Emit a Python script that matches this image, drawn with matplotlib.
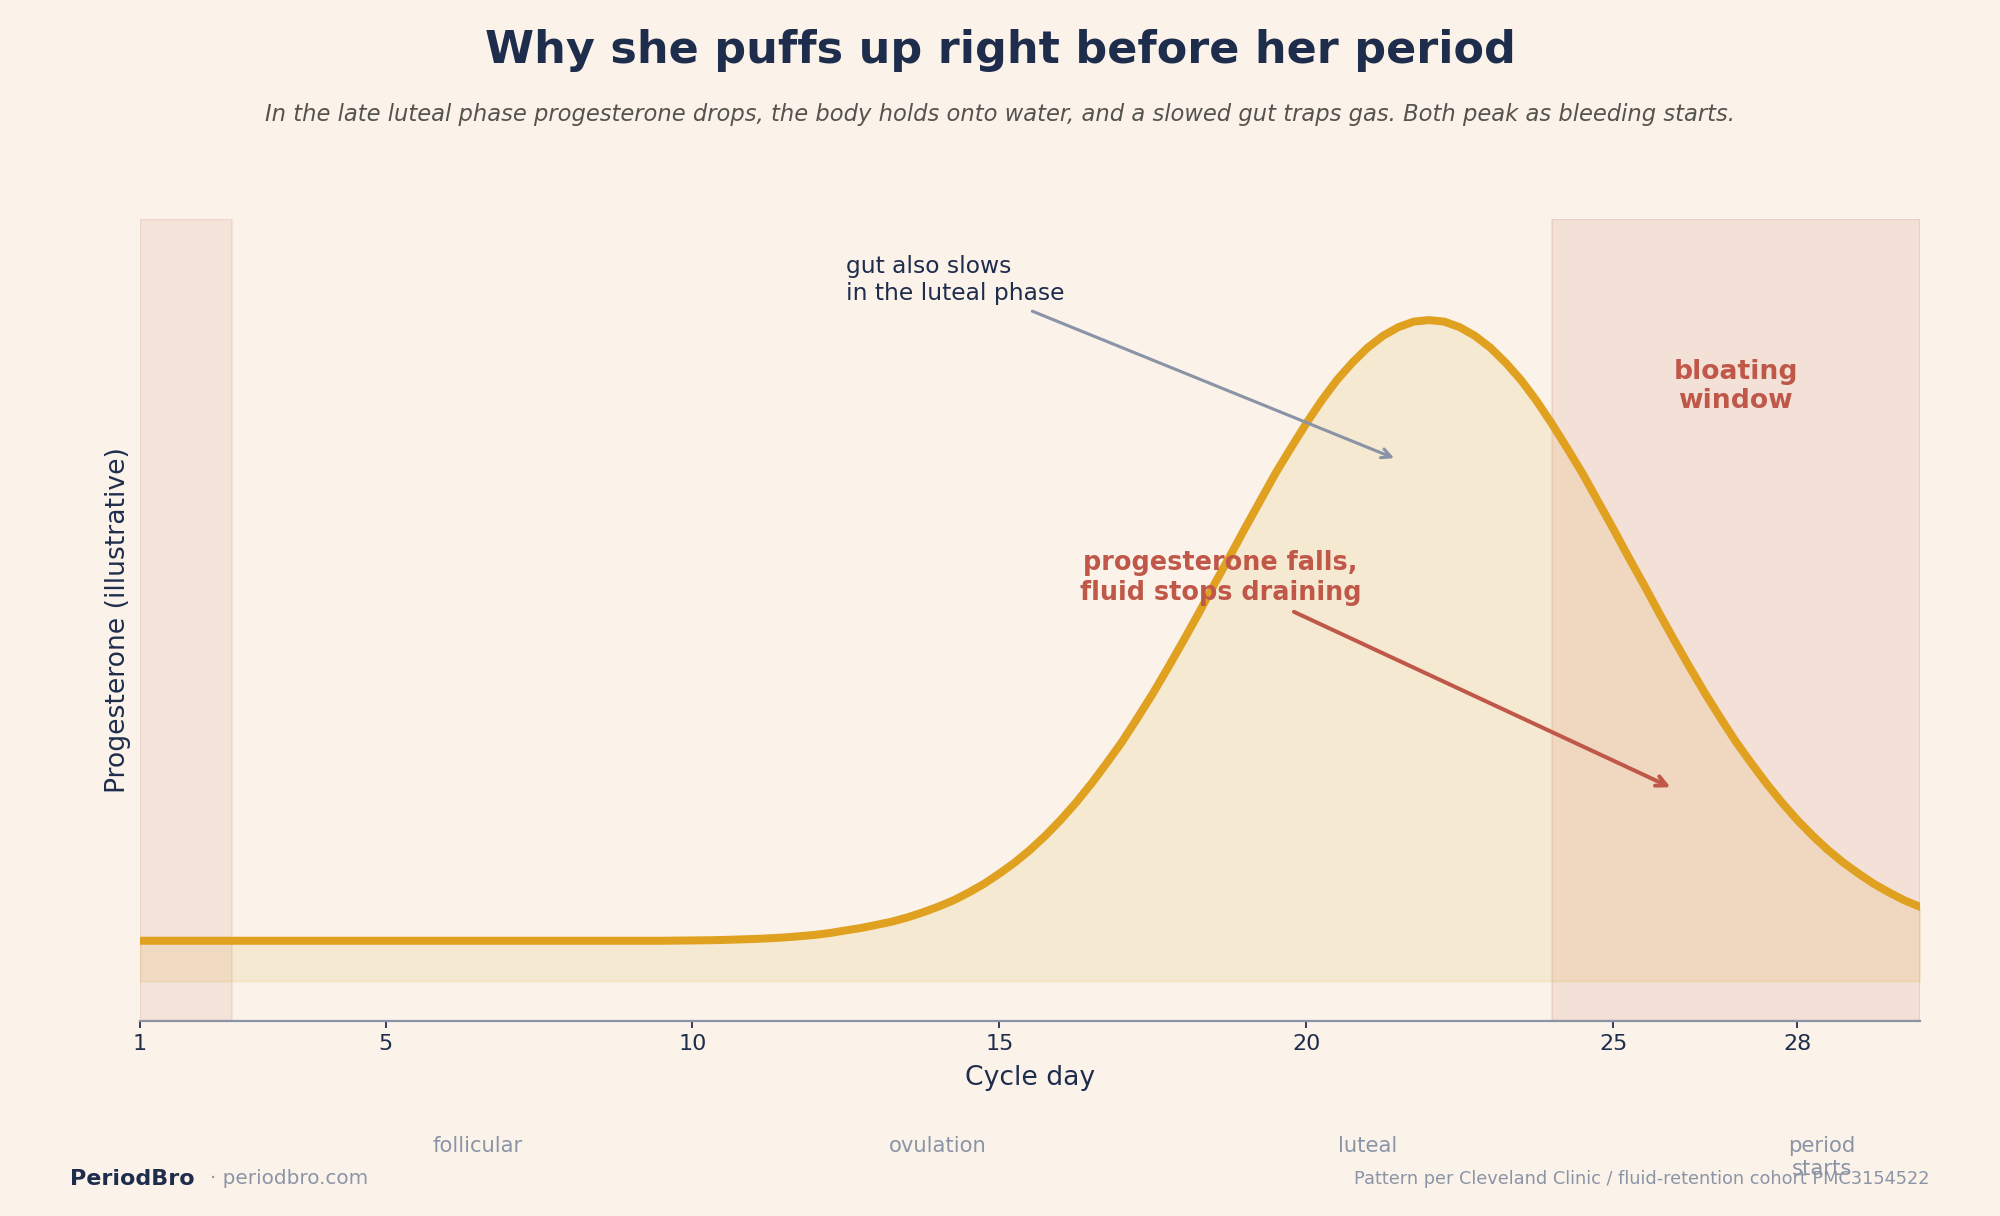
import numpy as np
import matplotlib
matplotlib.use('Agg')
import matplotlib.pyplot as plt

# Data
days = np.arange(1, 30.25, 0.25)
progesterone = [.0510] * 35 + [
    .0512, .0514, .0516, .0520, .0526, .0532, .0541, .0552,
    .0567, .0585, .0609, .0641, .0672, .0711, .0752, .0805, .0868, .0940, .1020, .1120,
    .1230, .1360, .1500, .1660, .1840, .2040, .2260, .2500, .2760, .3030, .3330, .3640,
    .3970, .4310, .4660, .5020, .5370, .5730, .6080, .6430, .6750, .7060, .7350, .7610,
    .7830, .8020, .8170, .8280, .8350, .8370, .8350, .8280, .8170, .8020, .7830, .7610,
    .7350, .7060, .6750, .6430, .6080, .5730, .5370, .5020, .4660, .4310, .3970, .3640,
    .3330, .3030, .2760, .2500, .2260, .2040, .1840, .1660, .1500, .1360, .1230, .1120,
    .1020, .0940]
tick_days = [1, 5, 10, 15, 20, 25, 28]
phase_days = [6.5, 14, 21, 28.4]
phase_names = ['follicular', 'ovulation', 'luteal', 'period\nstarts']
period_span = [1, 2.5]
bloating_span = [24, 30]

BG = '#FBF3EA'
NAVY = '#1F2D4D'
GOLD = '#E0A020'
CORAL = '#C0584A'
GRAY = '#8A94A6'

fig = plt.figure(figsize=(12.5, 7.6), dpi=160, facecolor=BG)
ax = fig.add_axes([140 / 2000, 1 - 1020.5 / 1216, 1780 / 2000, 801.5 / 1216], facecolor=BG)

ax.axvspan(period_span[0], period_span[1], color=CORAL, alpha=0.10, zorder=1)
ax.axvspan(bloating_span[0], bloating_span[1], color=CORAL, alpha=0.12, zorder=1)
ax.fill_between(days, 0, progesterone, color='#D9A520', alpha=0.12, zorder=2)
ax.plot(days, progesterone, color=GOLD, lw=3.6, zorder=3)

ax.set_xlim(1, 30)
ax.set_ylim(-0.05, 0.965)
ax.set_xticks(tick_days)
ax.set_yticks([])
ax.tick_params(axis='x', labelsize=10, colors=NAVY, length=3.2, width=0.8, pad=3)
for side in ['top', 'right', 'left']:
    ax.spines[side].set_visible(False)
ax.spines['bottom'].set_color(GRAY)
ax.spines['bottom'].set_linewidth(1)

ax.set_xlabel('Cycle day', fontsize=12, color=NAVY, labelpad=4.7)
ax.set_ylabel('Progesterone (illustrative)', fontsize=12, color=NAVY, labelpad=4.2)

ax.text(27, 0.753, 'bloating\nwindow', color=CORAL, fontsize=12, fontweight='bold',
        ha='center', va='center', linespacing=1.15)

ax.annotate('gut also slows\nin the luteal phase', xy=(21.5, 0.66), xytext=(12.5, 0.888),
            fontsize=10.5, color=NAVY, ha='left', va='center', linespacing=1.25,
            arrowprops=dict(arrowstyle='->', color=GRAY, lw=1.4), zorder=5)
ax.annotate('progesterone falls,\nfluid stops draining', xy=(26, 0.243), xytext=(18.6, 0.511),
            fontsize=11.5, color=CORAL, fontweight='bold', ha='center', va='center', linespacing=1.2,
            arrowprops=dict(arrowstyle='->', color=CORAL, lw=1.8), zorder=5)

trans = ax.get_xaxis_transform()
for d, name in zip(phase_days, phase_names):
    ax.text(d, -0.144, name, transform=trans, fontsize=9.5, color=GRAY,
            ha='center', va='top', linespacing=1.2)

fig.text(0.5, 1 - 50 / 1216, 'Why she puffs up right before her period', fontsize=20, fontweight='bold',
         color=NAVY, ha='center', va='center')
fig.text(1000 / 2000, 1 - 115 / 1216,
         'In the late luteal phase progesterone drops, the body holds onto water, and a slowed gut traps gas. Both peak as bleeding starts.',
         fontsize=10.17, style='italic', color='#55534D', ha='center', va='center')

fig.text(70 / 2000, 1 - 1179 / 1216, 'PeriodBro', fontsize=10, fontweight='bold', color=NAVY, va='center')
fig.text(210 / 2000, 1 - 1179 / 1216, '· periodbro.com', fontsize=9, color=GRAY, va='center')
fig.text(1930 / 2000, 1 - 1179 / 1216, 'Pattern per Cleveland Clinic / fluid-retention cohort PMC3154522',
         fontsize=8, color=GRAY, ha='right', va='center')

fig.savefig('out.png', dpi=160, facecolor=BG)
